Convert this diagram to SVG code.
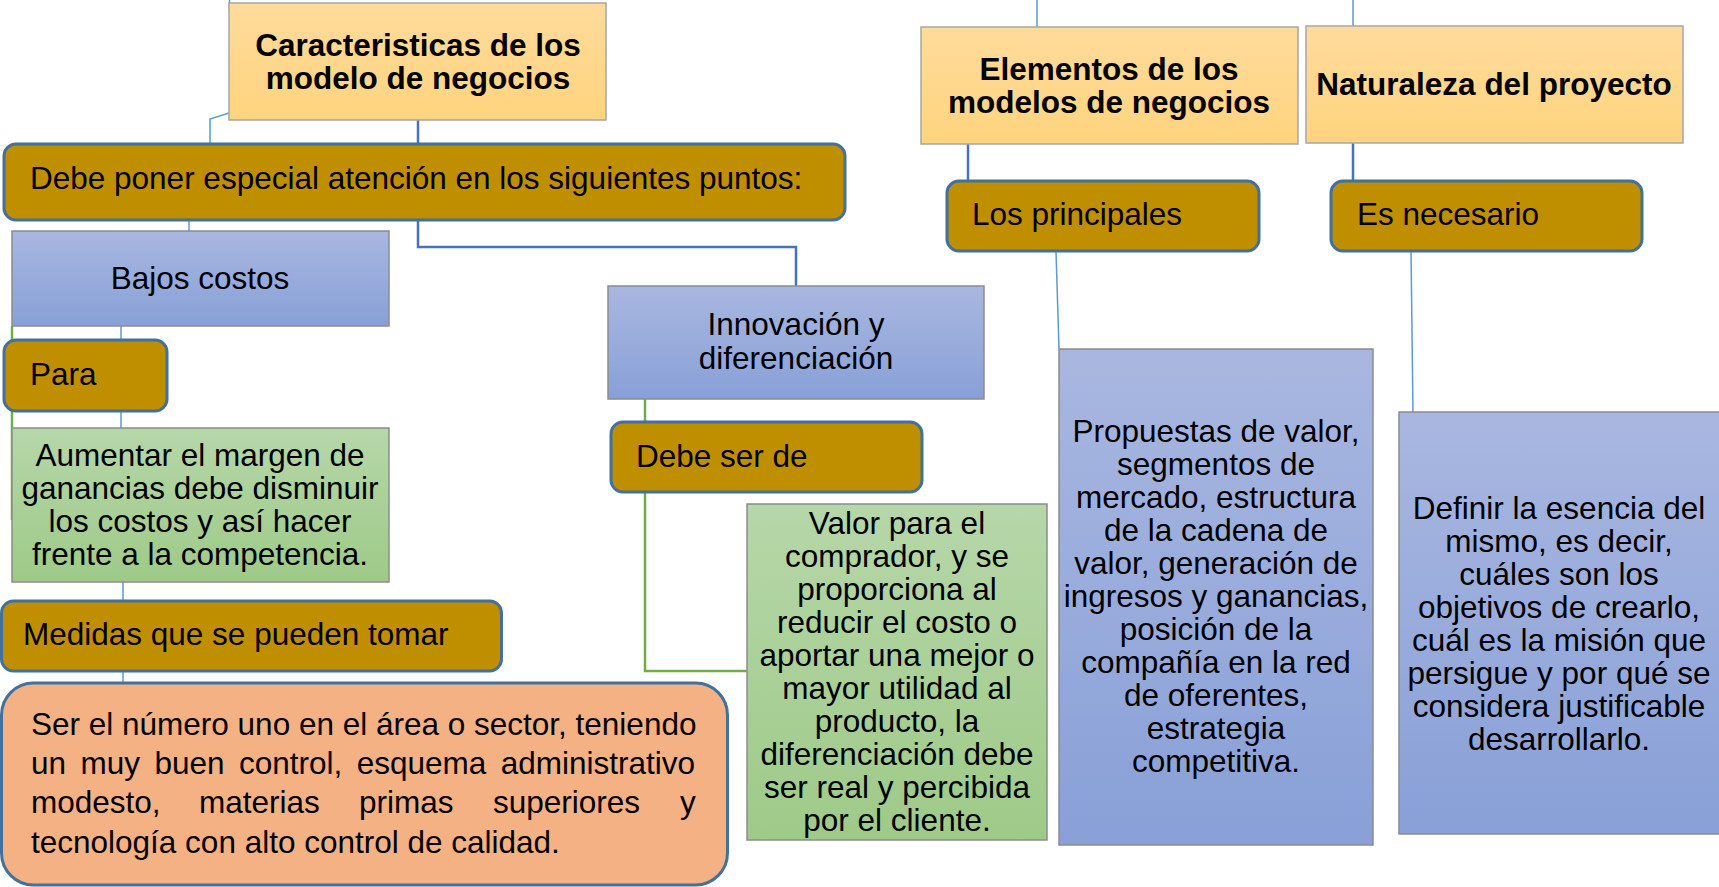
<svg xmlns="http://www.w3.org/2000/svg" width="1719" height="887" viewBox="0 0 1719 887">
<defs>
<linearGradient id="gOrange" x1="0" y1="0" x2="0" y2="1"><stop offset="0" stop-color="#FFDB9C"/><stop offset="1" stop-color="#FFD47E"/></linearGradient>
<linearGradient id="gBlue" x1="0" y1="0" x2="0" y2="1"><stop offset="0" stop-color="#A9B7E0"/><stop offset="1" stop-color="#88A0D7"/></linearGradient>
<linearGradient id="gGreen" x1="0" y1="0" x2="0" y2="1"><stop offset="0" stop-color="#B6D7A9"/><stop offset="1" stop-color="#9ECA88"/></linearGradient>
<style>
text{font-family:"Liberation Sans",Arial,sans-serif;fill:#000;font-size:31.5px}
.b{font-weight:bold}
.c{text-anchor:middle}
.title{fill:url(#gOrange);stroke:#A6A6A6;stroke-width:1.5}
.blue{fill:url(#gBlue);stroke:#8C8C8C;stroke-width:1.5}
.green{fill:url(#gGreen);stroke:#8C8C8C;stroke-width:1.5}
.gold{fill:#BF8F00;stroke:#41719C;stroke-width:3}
.peach{fill:#F4B183;stroke:#41719C;stroke-width:3}
.lb{fill:none;stroke:#4472C4;stroke-width:2.5}
.lt{fill:none;stroke:#5B9BD5;stroke-width:1.5}
.lg{fill:none;stroke:#70AD47;stroke-width:2.5}
</style>
</defs>
<rect width="1719" height="887" fill="#fff"/>
<g id="connectors">
<line class="lt" x1="229.5" y1="0" x2="229.5" y2="11"/>
<path class="lt" d="M229 113 L210 119 V144"/>
<line class="lb" x1="418" y1="120" x2="418" y2="144"/>
<line class="lt" x1="189" y1="220" x2="189" y2="231"/>
<path class="lb" d="M418 220 V247 H796 V286"/>
<line class="lt" x1="121" y1="326" x2="121" y2="340"/>
<line class="lt" x1="121" y1="411" x2="121" y2="428"/>
<line class="lt" x1="123" y1="582" x2="123" y2="601"/>
<line class="lt" x1="123" y1="671" x2="123" y2="683"/>
<line class="lg" x1="12" y1="326" x2="12" y2="520"/>
<path class="lg" d="M645 399 V671 H747"/>
<line class="lt" x1="1037" y1="0" x2="1037" y2="27"/>
<line class="lb" x1="968" y1="144" x2="968" y2="181"/>
<line class="lt" x1="1353" y1="0" x2="1353" y2="26"/>
<line class="lb" x1="1353" y1="143" x2="1353" y2="181"/>
<line class="lt" x1="1056" y1="251" x2="1059" y2="349"/>
<line class="lt" x1="1411" y1="251" x2="1413" y2="412"/>
</g>
<g id="caracteristicas">
<rect class="title" x="229" y="3" width="377" height="117"/>
<text class="b c" x="418" y="56">Caracteristicas de los</text>
<text class="b c" x="418" y="89">modelo de negocios</text>
</g>
<g id="debe-poner">
<rect class="gold" x="4" y="144" width="841" height="76" rx="12"/>
<text x="30" y="189">Debe poner especial atención en los siguientes puntos:</text>
</g>
<g id="bajos-costos">
<rect class="blue" x="12" y="231" width="377" height="95"/>
<text class="c" x="200" y="289">Bajos costos</text>
</g>
<g id="para">
<rect class="gold" x="4" y="340" width="163" height="71" rx="12"/>
<text x="30" y="385">Para</text>
</g>
<g id="aumentar">
<rect class="green" x="12" y="428" width="377" height="154"/>
<text class="c" x="200" y="466">Aumentar el margen de</text>
<text class="c" x="200" y="499">ganancias debe disminuir</text>
<text class="c" x="200" y="532">los costos y así hacer</text>
<text class="c" x="200" y="565">frente a la competencia.</text>
</g>
<g id="medidas">
<rect class="gold" x="1.5" y="601" width="500" height="70" rx="12"/>
<text x="23" y="645">Medidas que se pueden tomar</text>
</g>
<g id="ser-el-numero-uno">
<rect class="peach" x="1.5" y="683" width="726" height="202" rx="32"/>
<text x="31" y="735">Ser el número uno en el área o sector, teniendo</text>
<text x="31" y="774" word-spacing="5.7">un muy buen control, esquema administrativo</text>
<text y="813"><tspan x="31">modesto,</tspan><tspan x="199">materias</tspan><tspan x="359">primas</tspan><tspan x="493">superiores</tspan><tspan x="680">y</tspan></text>
<text x="31" y="853">tecnología con alto control de calidad.</text>
</g>
<g id="innovacion">
<rect class="blue" x="608" y="286" width="376" height="113"/>
<text class="c" x="796" y="335">Innovación y</text>
<text class="c" x="796" y="369">diferenciación</text>
</g>
<g id="debe-ser-de">
<rect class="gold" x="611" y="422" width="311" height="70" rx="12"/>
<text x="636" y="467">Debe ser de</text>
</g>
<g id="valor">
<rect class="green" x="747" y="504" width="300" height="336"/>
<text class="c" x="897" y="534">Valor para el</text>
<text class="c" x="897" y="567">comprador, y se</text>
<text class="c" x="897" y="600">proporciona al</text>
<text class="c" x="897" y="633">reducir el costo o</text>
<text class="c" x="897" y="666">aportar una mejor o</text>
<text class="c" x="897" y="699">mayor utilidad al</text>
<text class="c" x="897" y="732">producto, la</text>
<text class="c" x="897" y="765">diferenciación debe</text>
<text class="c" x="897" y="798">ser real y percibida</text>
<text class="c" x="897" y="831">por el cliente.</text>
</g>
<g id="elementos">
<rect class="title" x="921" y="27" width="377" height="117"/>
<text class="b c" x="1109" y="80">Elementos de los</text>
<text class="b c" x="1109" y="113">modelos de negocios</text>
</g>
<g id="naturaleza">
<rect class="title" x="1306" y="26" width="377" height="117"/>
<text class="b c" x="1494" y="95">Naturaleza del proyecto</text>
</g>
<g id="los-principales">
<rect class="gold" x="947" y="181" width="312" height="70" rx="12"/>
<text x="972" y="225">Los principales</text>
</g>
<g id="es-necesario">
<rect class="gold" x="1331" y="181" width="311" height="70" rx="12"/>
<text x="1357" y="225">Es necesario</text>
</g>
<g id="propuestas">
<rect class="blue" x="1059" y="349" width="314" height="496"/>
<text class="c" x="1216" y="442">Propuestas de valor,</text>
<text class="c" x="1216" y="475">segmentos de</text>
<text class="c" x="1216" y="508">mercado, estructura</text>
<text class="c" x="1216" y="541">de la cadena de</text>
<text class="c" x="1216" y="574">valor, generación de</text>
<text class="c" x="1216" y="607">ingresos y ganancias,</text>
<text class="c" x="1216" y="640">posición de la</text>
<text class="c" x="1216" y="673">compañía en la red</text>
<text class="c" x="1216" y="706">de oferentes,</text>
<text class="c" x="1216" y="739">estrategia</text>
<text class="c" x="1216" y="772">competitiva.</text>
</g>
<g id="definir">
<rect class="blue" x="1399" y="412" width="330" height="422"/>
<text class="c" x="1559" y="519">Definir la esencia del</text>
<text class="c" x="1559" y="552">mismo, es decir,</text>
<text class="c" x="1559" y="585">cuáles son los</text>
<text class="c" x="1559" y="618">objetivos de crearlo,</text>
<text class="c" x="1559" y="651">cuál es la misión que</text>
<text class="c" x="1559" y="684">persigue y por qué se</text>
<text class="c" x="1559" y="717">considera justificable</text>
<text class="c" x="1559" y="750">desarrollarlo.</text>
</g>
</svg>
